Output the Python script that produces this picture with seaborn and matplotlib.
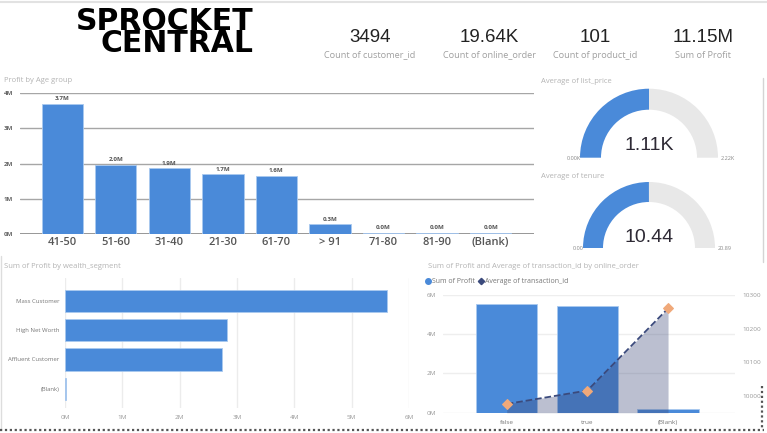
import numpy as np
import matplotlib
matplotlib.use("Agg")
import matplotlib.pyplot as plt
import seaborn as sns
from matplotlib.patches import Wedge
from matplotlib.lines import Line2D

sns.set_style("white")
plt.rcParams["font.family"] = ["Open Sans", "DejaVu Sans"]

# KPI cards
kpi_values = ["3494", "19.64K", "101", "11.15M"]
kpi_labels = ["Count of customer_id", "Count of online_order", "Count of product_id", "Sum of Profit"]

# Profit by age group (millions)
age_groups = ["41-50", "51-60", "31-40", "21-30", "61-70", "> 91", "71-80", "81-90", "(Blank)"]
age_profit = [3.70, 1.96, 1.86, 1.69, 1.64, 0.27, 0.03, 0.03, 0.03]

# gauges
gauge_titles = ["Average of list_price", "Average of tenure"]
gauge_values = [1.11, 10.44]
gauge_max = [2.22, 20.89]
gauge_text = ["1.11K", "10.44"]
gauge_min_text = ["0.00K", "0.00"]
gauge_max_text = ["2.22K", "20.89"]

# profit by wealth segment (millions)
wealth_segments = ["Mass Customer", "High Net Worth", "Affluent Customer", "(Blank)"]
wealth_profit = [5.61, 2.82, 2.73, 0.02]

# profit and avg transaction id by online_order
online_order = ["false", "true", "(Blank)"]
order_profit = [5.53, 5.44, 0.20]
avg_transaction = [9976, 10016, 10260]

BLUE = "#4a8ad9"
EDGE = "#a9c9ef"
W, H = 767, 433


def rect(x0, y0, x1, y1):
    # pixel box (top-left origin) -> figure fraction
    return [x0 / W, 1 - y1 / H, (x1 - x0) / W, (y1 - y0) / H]


fig = plt.figure(figsize=(W / 100, H / 100), dpi=100)
fig.patch.set_facecolor("white")

# ---- Profit by Age group ----
ax1 = fig.add_axes(rect(20, 93, 534, 234))
sns.barplot(x=age_groups, y=age_profit, color=BLUE, saturation=1, width=0.77,
            edgecolor=EDGE, linewidth=0.6, ax=ax1)
ax1.set_xlim(-0.79, 8.81)
ax1.set_ylim(0, 4)
ax1.set_yticks([0, 1, 2, 3, 4])
ax1.set_yticklabels([f"{t}M" for t in range(5)])
ax1.set_axisbelow(True)
ax1.grid(axis="y", color="#a6a6a6", lw=1)
ax1.grid(axis="x", visible=False)
for s in ax1.spines.values():
    s.set_visible(False)
ax1.axhline(0, color="#8c8c8c", lw=1.3, zorder=0)
ax1.tick_params(axis="y", length=0, pad=5, labelsize=4.5, labelcolor="#666")
ax1.tick_params(axis="x", length=0, pad=2, labelsize=8, labelcolor="#555")
for lbl in ax1.get_xticklabels():
    lbl.set_fontweight("semibold")
for lbl in ax1.get_yticklabels():
    lbl.set_fontweight("bold")
ax1.bar_label(ax1.containers[0], labels=[f"{v:.1f}M" for v in age_profit],
              padding=2, fontsize=4.5, color="#555", fontweight="bold")
ax1.set_xlabel("")
ax1.set_ylabel("")

# ---- Sum of Profit by wealth_segment ----
ax2 = fig.add_axes(rect(65, 278, 409, 408))
sns.barplot(x=wealth_profit, y=wealth_segments, orient="h", color=BLUE, saturation=1,
            width=0.75, edgecolor=EDGE, linewidth=0.6, ax=ax2)
ax2.set_xlim(0, 6)
ax2.set_ylim(3.65, -0.77)
ax2.set_xticks(range(7))
ax2.set_xticklabels([f"{t}M" for t in range(7)])
ax2.set_axisbelow(True)
ax2.grid(axis="x", color="#ececec", lw=1)
ax2.grid(axis="y", visible=False)
for s in ax2.spines.values():
    s.set_visible(False)
ax2.tick_params(axis="y", length=0, pad=4, labelsize=4.3, labelcolor="#777")
ax2.tick_params(axis="x", length=0, pad=5, labelsize=4.6, labelcolor="#999")
ax2.set_xlabel("")
ax2.set_ylabel("")

# ---- Sum of Profit and Average of transaction_id by online_order ----
ax3 = fig.add_axes(rect(443, 295, 735, 412.7))
sns.barplot(x=online_order, y=order_profit, color=BLUE, saturation=1, width=0.76,
            edgecolor=EDGE, linewidth=0.6, ax=ax3)
ax3.set_ylim(0, 6)
ax3.set_yticks([0, 2, 4, 6])
ax3.set_yticklabels(["0M", "2M", "4M", "6M"])
ax3.set_axisbelow(True)
ax3.grid(axis="y", color="#eeeeee", lw=1)
ax3.grid(axis="x", visible=False)
for s in ax3.spines.values():
    s.set_visible(False)
ax3.tick_params(axis="y", length=0, pad=5, labelsize=4.6, labelcolor="#999")
ax3.tick_params(axis="x", length=0, pad=5, labelsize=4.6, labelcolor="#777")
ax3.set_xlabel("")
ax3.set_ylabel("")

ax4 = ax3.twinx()
xs = np.arange(len(online_order))
ax4.fill_between(xs, avg_transaction, 9950, color="#3d4a7a", alpha=0.35, lw=0)
sns.lineplot(x=xs, y=avg_transaction, ax=ax4, color="#3b4a7c", linestyle="--", lw=1.3,
             marker="D", markersize=5, markerfacecolor="#f0a97a", markeredgecolor="#f0a97a")
ax4.set_ylim(9950, 10300)
ax4.set_yticks([10000, 10100, 10200, 10300])
for s in ax4.spines.values():
    s.set_visible(False)
ax4.tick_params(axis="y", length=0, pad=5, labelsize=4.6, labelcolor="#999")
ax4.set_ylabel("")
ax3.set_xlim(-0.79, 2.83)

handles = [Line2D([], [], marker="o", color=BLUE, ls="", ms=4),
           Line2D([], [], marker="D", color="#3b4a7c", ls="", ms=3.2)]
fig.legend(handles=handles, labels=["Sum of Profit", "Average of transaction_id"],
           loc="center left", bbox_to_anchor=(426 / W, 1 - 281.7 / H), ncol=2,
           frameon=False, fontsize=5, handlelength=0.7, handletextpad=0.2,
           columnspacing=0.5, borderpad=0, borderaxespad=0, labelcolor="#777")

# ---- overlay in pixel units: logo, KPIs, gauges, titles, frames ----
axo = fig.add_axes([0, 0, 1, 1])
axo.set_xlim(0, W)
axo.set_ylim(0, H)
axo.axis("off")
axo.patch.set_alpha(0)

axo.text(253, H - 52, "SPROCKET\nCENTRAL", ha="right", va="baseline", ma="right",
         fontsize=21.5, linespacing=0.71, fontweight="bold", family="DejaVu Sans",
         color="black")

kpi_x = [370, 489.5, 595, 703]
for x, v, lab in zip(kpi_x, kpi_values, kpi_labels):
    axo.text(x, H - 41.7, v, ha="center", va="baseline", fontsize=13.5,
             family="Liberation Sans", color="#222")
    axo.text(x, H - 55, lab, ha="center", va="center", fontsize=6.6, color="#a0a0a0")

# titles
title_kw = dict(ha="left", va="center", fontsize=5.5, color="#b4b4b4")
axo.text(4, H - 80.7, "Profit by Age group", **title_kw)
axo.text(4, H - 266.7, "Sum of Profit by wealth_segment", **title_kw)
axo.text(428, H - 266.7, "Sum of Profit and Average of transaction_id by online_order", **title_kw)

# gauges
gauge_geo = [(649, 157.7, 69, 48, 81.7, 145), (649, 248, 66, 46, 176, 238)]
for i, (cx, cy, ro, ri, ty, vy) in enumerate(gauge_geo):
    ang = 180 * (1 - gauge_values[i] / gauge_max[i])
    axo.add_patch(Wedge((cx, H - cy), ro, ang, 180, width=ro - ri, color=BLUE, lw=0))
    axo.add_patch(Wedge((cx, H - cy), ro, 0, ang, width=ro - ri, color="#e8e8e8", lw=0))
    axo.text(541, H - ty, gauge_titles[i], **title_kw)
    axo.text(cx, H - vy, gauge_text[i], ha="center", va="center", fontsize=14,
             family="Liberation Sans", color="#2e2a35")
    axo.text(cx - ro + 1, H - cy - 1, gauge_min_text[i], ha="right", va="center",
             fontsize=4, color="#888")
    axo.text(cx + ro + 3, H - cy - 1, gauge_max_text[i], ha="left", va="center",
             fontsize=4, color="#888")

# frames
axo.plot([0, W], [H - 1.5, H - 1.5], color="#e2e2e2", lw=1.5)
axo.plot([763, 763], [H - 78, H - 262], color="#d4d4d4", lw=1)
axo.plot([1, 1], [H - 256, H - 428], color="#dddddd", lw=1)
axo.plot([0, 764], [H - 430, H - 430], color="#555", lw=1.6, ls=(0, (1, 1.2)))
axo.plot([762, 762], [H - 386, H - 430], color="#555", lw=1.6, ls=(0, (1, 1.2)))

fig.savefig("out.png", dpi=100)
